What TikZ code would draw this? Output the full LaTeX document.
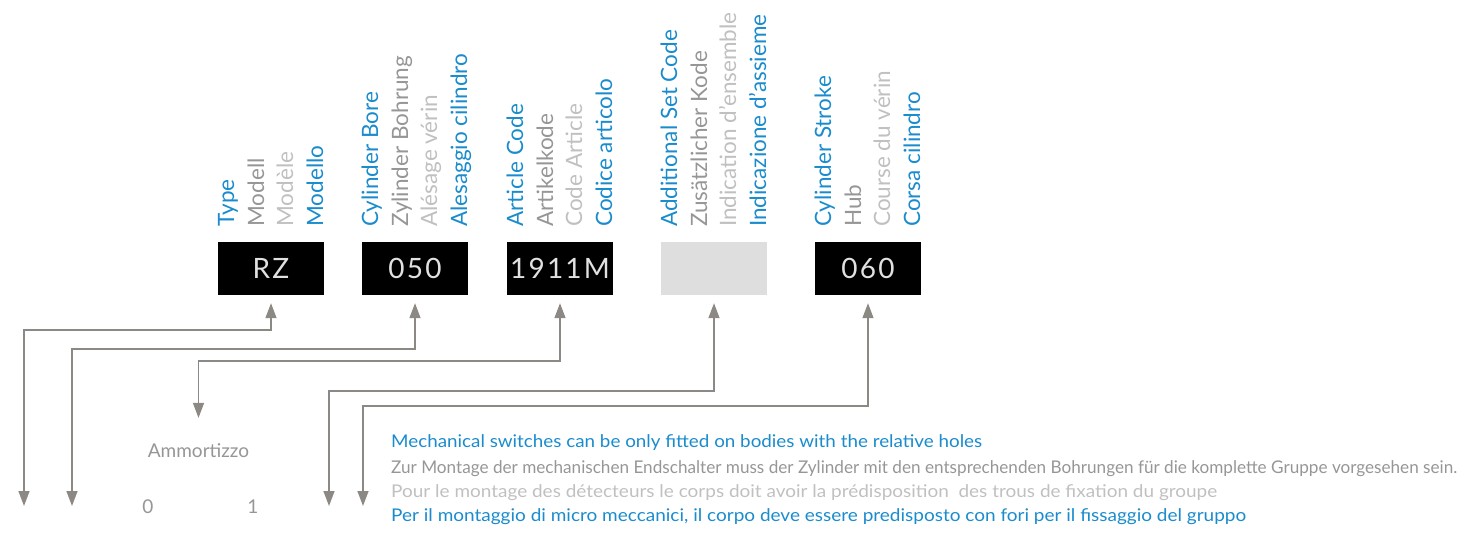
\documentclass[tikz,border=0pt]{standalone}
\usepackage{fontspec}
\setmainfont{Lato}
\usetikzlibrary{arrows.meta}

\definecolor{codeblue}{RGB}{26,140,205}
\definecolor{labgray}{RGB}{150,150,150}
\definecolor{labpale}{RGB}{192,192,192}
\definecolor{linkgray}{RGB}{140,137,133}
\definecolor{boxtext}{RGB}{225,225,225}
\definecolor{emptybox}{RGB}{222,222,222}

% scale a line of text horizontally to a given width (in pt)
\newsavebox\fitbox
\newcommand\fitw[2]{\sbox\fitbox{#2}%
  \pgfmathsetmacro\fitratio{#1/(\the\wd\fitbox)}%
  \scalebox{\fitratio}[1]{\usebox\fitbox}}

\begin{document}
\begin{tikzpicture}[x=1pt,y=-1pt,
  codebox/.style={fill=black, minimum width=106pt, minimum height=53pt, inner sep=0pt,
    text=boxtext, font=\fontsize{28}{28}\selectfont\addfontfeature{LetterSpace=8}},
  blankbox/.style={fill=emptybox, minimum width=106pt, minimum height=53pt, inner sep=0pt},
  lab/.style={rotate=90, anchor=base west, inner sep=0pt, font=\fontsize{22.5}{22.5}\selectfont},
  en/.style={lab, text=codeblue},
  de/.style={lab, text=labgray},
  fr/.style={lab, text=labpale},
  it/.style={lab, text=codeblue},
  link/.style={draw=linkgray, line width=1.4pt,
    {Triangle[length=15pt,width=11pt]}-{Triangle[length=15pt,width=11pt]}},
  note/.style={anchor=base west, inner sep=0pt, font=\fontsize{17.5}{17.5}\selectfont},
  small/.style={anchor=base, inner sep=0pt, text=labgray, font=\fontsize{19}{19}\selectfont}]

\useasboundingbox (0,0) rectangle (1465,534);

% code boxes
\node[codebox] (rz) at (271,268.5) {RZ};
\node[codebox] (zb) at (415,268.5) {050};
\node[codebox] (ac) at (560,268.5) {1911M};
\node[blankbox] (sc) at (714,268.5) {};
\node[codebox] (st) at (868,268.5) {060};

% rotated captions above each box
\node[en] (rz1) at (234,227) {Type};
\node[de] (rz2) at (264,227) {Modell};
\node[fr] (rz3) at (293,227) {Modèle};
\node[it] (rz4) at (323,227) {Modello};

\node[en] (zb1) at (378,227) {Cylinder Bore};
\node[de] (zb2) at (408,227) {Zylinder Bohrung};
\node[fr] (zb3) at (437,227) {Alésage vérin};
\node[it] (zb4) at (467,227) {Alesaggio cilindro};

\node[en] (ac1) at (523,227) {Article Code};
\node[de] (ac2) at (553,227) {Artikelkode};
\node[fr] (ac3) at (582,227) {Code Article};
\node[it] (ac4) at (612,227) {Codice articolo};

\node[en] (sc1) at (677,227) {Additional Set Code};
\node[de] (sc2) at (707,227) {Zusätzlicher Kode};
\node[fr] (sc3) at (736,227) {Indication d'ensemble};
\node[it] (sc4) at (766,227) {Indicazione d'assieme};

\node[en] (st1) at (831,227) {Cylinder Stroke};
\node[de] (st2) at (861,227) {Hub};
\node[fr] (st3) at (890,227) {Course du vérin};
\node[it] (st4) at (920,227) {Corsa cilindro};

% option texts
\node[small] (amm) at (198.5,457) {Ammortizzo};
\node[small] (opt0) at (148,513) {0};
\node[small] (opt1) at (253,513) {1};

\node[note, text=codeblue] (n1) at (391,448)
  {\fitw{591}{Mechanical switches can be only fitted on bodies with the relative holes}};
\node[note, text=labgray] (n2) at (391,473)
  {\fitw{1066}{Zur Montage der mechanischen Endschalter muss der Zylinder mit den entsprechenden Bohrungen für die komplette Gruppe vorgesehen sein.}};
\node[note, text=labpale] (n3) at (391,497)
  {\fitw{826}{Pour le montage des détecteurs le corps doit avoir la prédisposition\ \ des trous de fixation du groupe}};
\node[note, text=codeblue] (n4) at (391,521)
  {\fitw{855}{Per il montaggio di micro meccanici, il corpo deve essere predisposto con fori per il fissaggio del gruppo}};

% free ends of the connectors
\coordinate (d1) at (24,506);
\coordinate (d2) at (72,506);
\coordinate (d3) at (329,506);
\coordinate (d4) at (363,506);

% connectors
\draw[link, shorten <=8pt] (rz.south) -- ++(0,35) -| (d1);
\draw[link, shorten <=8pt] (zb.south) -- ++(0,54) -| (d2);
\draw[link, shorten <=8pt, shorten >=25pt] (ac.south) -- ++(0,66) -| (amm.north);
\draw[link, shorten <=8pt] (sc.south) -- ++(0,96) -| (d3);
\draw[link, shorten <=8pt] (st.south) -- ++(0,111) -| (d4);
\end{tikzpicture}
\end{document}
